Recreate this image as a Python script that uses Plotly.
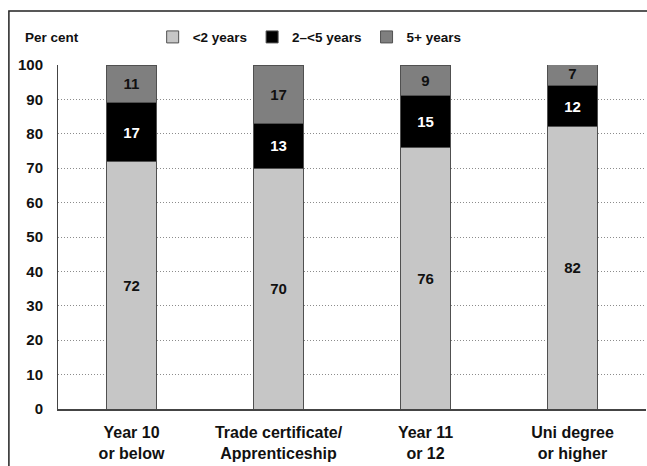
import plotly.graph_objects as go

# Share of workers by job tenure, by highest education level
categories = ["Year 10<br>or below", "Trade certificate/<br>Apprenticeship",
              "Year 11<br>or 12", "Uni degree<br>or higher"]
under_2 = [72, 70, 76, 82]
two_to_5 = [17, 13, 15, 12]
five_plus = [11, 17, 9, 7]
y_ticks = [0, 10, 20, 30, 40, 50, 60, 70, 80, 90, 100]

FONT = "Liberation Sans, Arial, sans-serif"
INK = "#111111"
series = [
    ("<2 years", under_2, "#c6c6c6", INK),
    ("2–<5 years", two_to_5, "#000000", "#ffffff"),
    ("5+ years", five_plus, "#7f7f7f", INK),
]

fig = go.Figure()
for name, vals, color, txtcol in series:
    fig.add_trace(go.Bar(
        x=categories, y=vals, name=name,
        marker=dict(color=color, line=dict(color="#505050", width=1)),
        text=[str(v) for v in vals], textposition="inside",
        insidetextanchor="middle", constraintext="none",
        textfont=dict(family=FONT, size=15, color=txtcol, weight="bold"),
        width=0.34,
    ))

fig.update_layout(
    barmode="stack",
    width=647, height=466,
    margin=dict(l=58, r=1, t=65, b=57),
    paper_bgcolor="white", plot_bgcolor="white",
    font=dict(family=FONT, size=14, color=INK, weight="bold"),
    showlegend=True,
    legend=dict(orientation="h", x=0.161, y=1.081, xanchor="left", yanchor="middle",
                font=dict(family=FONT, size=13.5, color=INK, weight="bold"),
                itemwidth=30, traceorder="normal", bgcolor="rgba(0,0,0,0)",
                itemclick=False),
    xaxis=dict(showline=True, linecolor="#444444", linewidth=1.5,
               showgrid=False, ticks="", ticklabelstandoff=8,
               tickfont=dict(family=FONT, size=16, color=INK, weight="bold")),
    yaxis=dict(range=[0, 100], tickvals=y_ticks, showline=True, linecolor="#444444",
               linewidth=1, showgrid=True, gridcolor="#8c8c8c", griddash="1px,2px",
               gridwidth=1, zeroline=False, ticks="", ticklabelstandoff=11,
               tickfont=dict(family=FONT, size=15, color=INK, weight="bold")),
    annotations=[dict(text="Per cent", xref="paper", yref="paper", x=-0.059, y=1.081,
                      xanchor="left", yanchor="middle", showarrow=False,
                      font=dict(family=FONT, size=13.5, color=INK, weight="bold"))],
    shapes=[dict(type="rect", xref="paper", yref="paper", x0=-0.0835, y0=-1.0,
                 x1=2.0, y1=1.157, line=dict(color="#222222", width=1.5),
                 fillcolor="rgba(0,0,0,0)", layer="below")],
)

fig.write_html("out.html")
